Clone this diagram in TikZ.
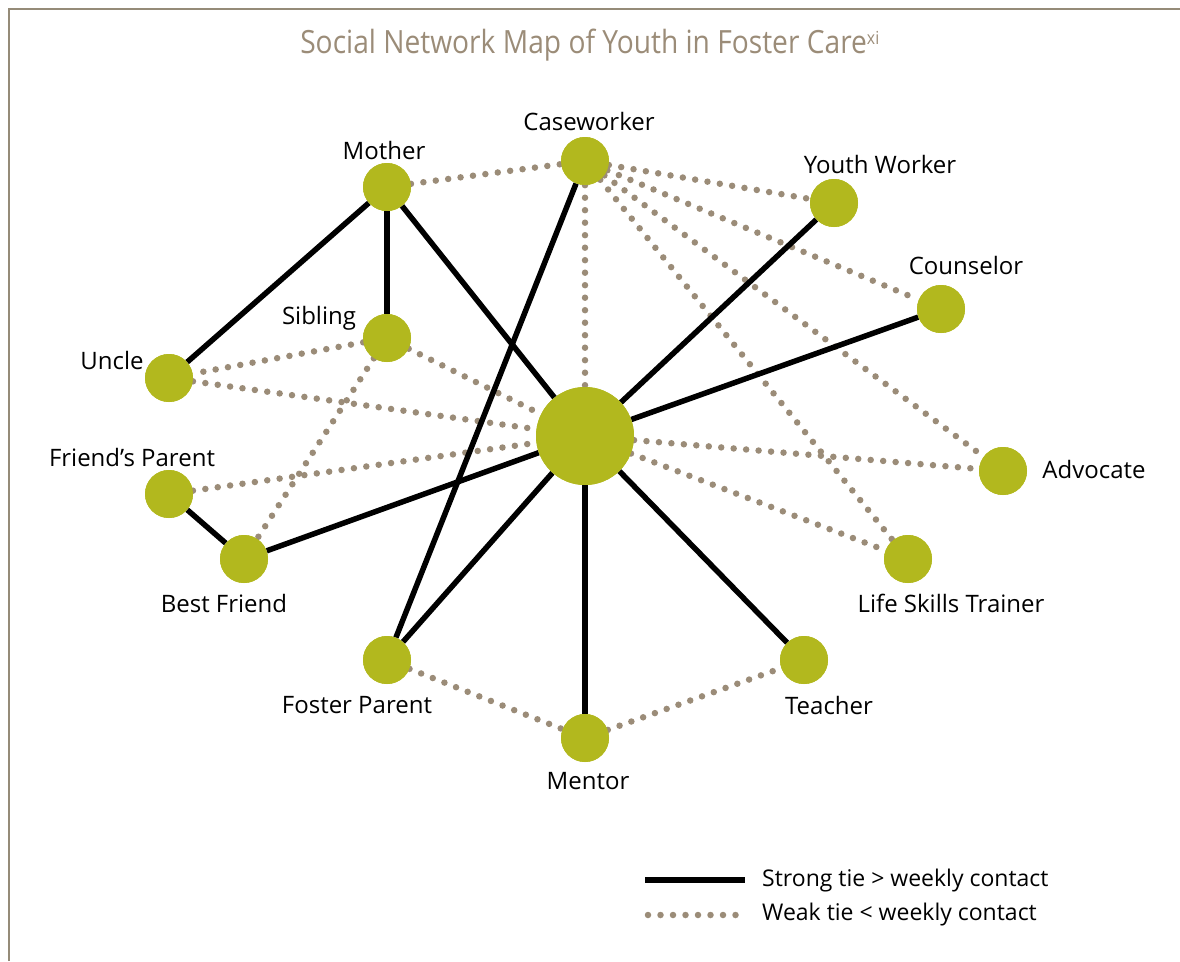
\documentclass[tikz,border=0pt]{standalone}
\usepackage{fontspec}
\setmainfont{Open Sans}
\definecolor{nodegreen}{RGB}{178,184,30}
\definecolor{weakbrown}{RGB}{155,140,120}
\definecolor{framebrown}{RGB}{149,139,120}
\definecolor{titlebrown}{RGB}{155,140,120}
\begin{document}
\begin{tikzpicture}[x=1pt,y=-1pt,
  person/.style={circle,fill=nodegreen,inner sep=0pt,minimum size=48pt},
  hub/.style={circle,fill=nodegreen,inner sep=0pt,minimum size=98pt},
  strong/.style={line width=5.5pt,black},
  weak/.style={line width=6.5pt,weakbrown,line cap=round,dash pattern=on 0pt off 12.5pt},
  lbl/.style={font=\fontsize{24}{28}\selectfont,inner sep=0pt,anchor=center},
  legtext/.style={font=\fontsize{23}{27}\selectfont,inner sep=0pt,anchor=west}]
\useasboundingbox (0,0) rectangle (1180,961);
\draw[framebrown,line width=2.2pt] (9,961) -- (9,9) -- (1180,9);
\node[font=\fontsize{32}{38}\selectfont,text=titlebrown,inner sep=0pt] (title) at (590,45)
  {\scalebox{0.88}[1]{Social Network Map of Youth in Foster Care\textsuperscript{\fontsize{18}{21}\selectfont xi}}};
% nodes
\node[person] (mother) at (387,187) {};
\node[person] (case) at (585,161) {};
\node[person] (youth) at (834,203) {};
\node[person] (couns) at (941,309) {};
\node[person] (sib) at (387,338) {};
\node[person] (uncle) at (169,378) {};
\node[hub] (ego) at (585,436) {};
\node[person] (fparent) at (169,494) {};
\node[person] (adv) at (1003,471) {};
\node[person] (bf) at (244,559) {};
\node[person] (lst) at (908,559) {};
\node[person] (foster) at (387,660) {};
\node[person] (teach) at (804,660) {};
\node[person] (mentor) at (585,738) {};
% weak ties
\draw[weak] (mother) -- (case);
\draw[weak] (case) -- (youth);
\draw[weak] (case) -- (couns);
\draw[weak] (case) -- (adv);
\draw[weak] (case) -- (lst);
\draw[weak] (case) -- (ego);
\draw[weak] (sib) -- (uncle);
\draw[weak] (sib) -- (ego);
\draw[weak] (sib) -- (bf);
\draw[weak] (uncle) -- (ego);
\draw[weak] (fparent) -- (ego);
\draw[weak] (ego) -- (adv);
\draw[weak] (ego) -- (lst);
\draw[weak] (foster) -- (mentor);
\draw[weak] (mentor) -- (teach);
% strong ties
\draw[strong] (mother) -- (uncle);
\draw[strong] (mother) -- (sib);
\draw[strong] (mother) -- (ego);
\draw[strong] (case) -- (foster);
\draw[strong] (youth) -- (ego);
\draw[strong] (couns) -- (ego);
\draw[strong] (ego) -- (bf);
\draw[strong] (fparent) -- (bf);
\draw[strong] (ego) -- (foster);
\draw[strong] (ego) -- (mentor);
\draw[strong] (ego) -- (teach);
% redraw nodes on top
\foreach \n in {mother,case,youth,couns,sib,uncle,fparent,adv,bf,lst,foster,teach,mentor}{
  \fill[nodegreen] (\n) circle (24pt);}
\fill[nodegreen] (ego) circle (49pt);
% labels
\node[lbl] (lmother) at (384,150) {Mother};
\node[lbl] (lcase) at (589,121) {Caseworker};
\node[lbl] (lyouth) at (880,164) {Youth Worker};
\node[lbl] (lcouns) at (966,265) {Counselor};
\node[lbl] (lsib) at (319,318) {Sibling};
\node[lbl] (luncle) at (112,360) {Uncle};
\node[lbl] (lfp) at (132,457) {Friend’s Parent};
\node[lbl] (ladv) at (1094,469) {Advocate};
\node[lbl] (lbf) at (224,603) {Best Friend};
\node[lbl] (llst) at (951,603) {Life Skills Trainer};
\node[lbl] (lfoster) at (357,705) {Foster Parent};
\node[lbl] (lteach) at (829,705) {Teacher};
\node[lbl] (lmentor) at (588,781) {Mentor};
% legend
\coordinate (s1) at (645,880); \coordinate (s2) at (745,880);
\coordinate (w1) at (648,915); \coordinate (w2) at (745,915);
\draw[strong] (s1) -- (s2);
\draw[weak] (w1) -- (w2);
\node[legtext] (ls) at (762,881) {Strong tie > weekly contact};
\node[legtext] (lw) at (762,915) {Weak tie < weekly contact};
\end{tikzpicture}
\end{document}
